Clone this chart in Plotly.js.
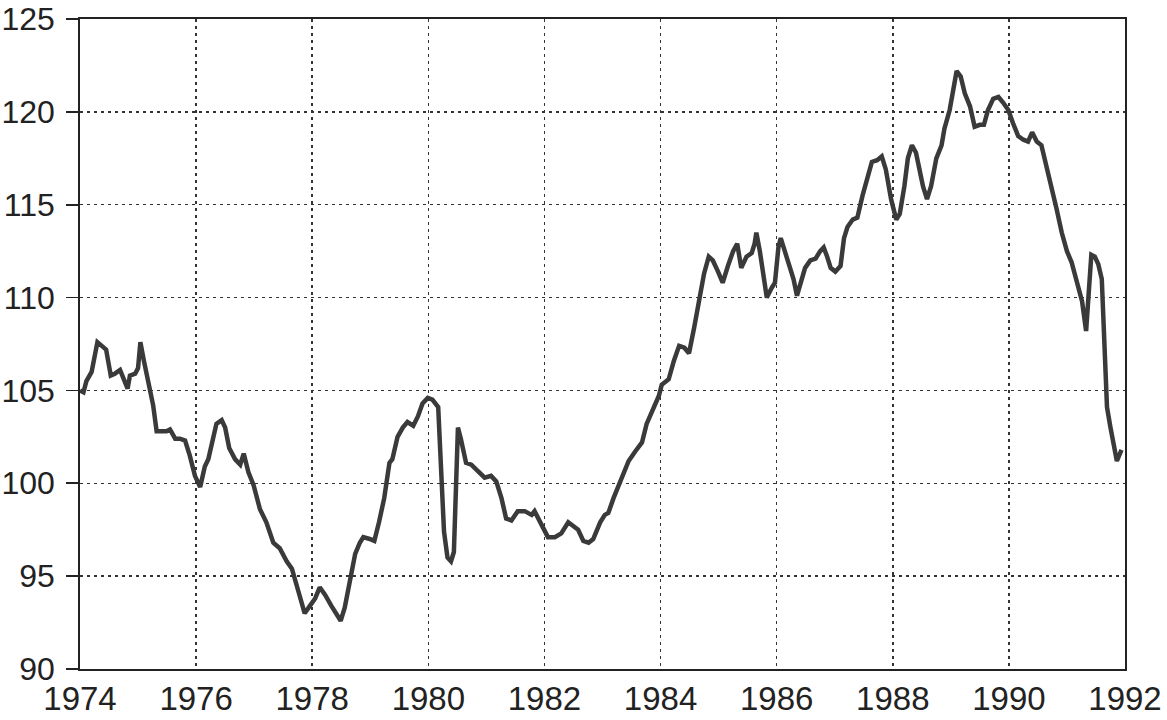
<!DOCTYPE html>
<html>
<head>
<meta charset="utf-8">
<script src="https://cdn.plot.ly/plotly-3.0.1.min.js"></script>
<style>
  html, body { margin: 0; padding: 0; background: #fff; }
  #chart { width: 1167px; height: 720px; }
</style>
</head>
<body>
<div id="chart"></div>
<script>
// Decimal year of each reading
const years = [
  1974.00,1974.06,1974.11,1974.20,1974.30,1974.37,1974.45,1974.53,1974.60,1974.69,1974.75,1974.82,1974.86,1974.95,
  1975.00,1975.04,1975.10,1975.21,1975.26,1975.32,1975.41,1975.49,1975.55,1975.64,1975.72,1975.81,1975.89,1975.98,
  1976.07,1976.15,1976.21,1976.27,1976.35,1976.44,1976.50,1976.57,1976.67,1976.76,1976.82,1976.90,1976.99,
  1977.10,1977.21,1977.33,1977.44,1977.56,1977.65,1977.76,1977.87,1977.96,
  1978.05,1978.13,1978.22,1978.33,1978.42,1978.49,1978.56,1978.65,1978.74,1978.82,1978.88,1978.99,
  1979.07,1979.15,1979.24,1979.33,1979.38,1979.47,1979.56,1979.64,1979.74,1979.82,1979.90,1979.99,
  1980.07,1980.17,1980.22,1980.27,1980.33,1980.39,1980.44,1980.48,1980.51,1980.56,1980.65,1980.74,1980.85,1980.97,
  1981.08,1981.17,1981.26,1981.34,1981.43,1981.54,1981.66,1981.78,1981.83,1981.95,
  1982.06,1982.18,1982.29,1982.41,1982.50,1982.58,1982.67,1982.76,1982.84,1982.96,
  1983.04,1983.10,1983.19,1983.27,1983.36,1983.45,1983.56,1983.68,1983.76,1983.85,1983.97,
  1984.02,1984.14,1984.23,1984.32,1984.41,1984.49,1984.58,1984.67,1984.75,1984.83,1984.90,1984.99,
  1985.07,1985.16,1985.25,1985.32,1985.39,1985.48,1985.57,1985.62,1985.65,1985.71,1985.77,1985.83,1985.91,1985.97,
  1986.03,1986.07,1986.12,1986.20,1986.29,1986.35,1986.41,1986.49,1986.58,1986.67,1986.75,1986.81,1986.87,1986.93,
  1987.01,1987.10,1987.16,1987.22,1987.31,1987.39,1987.48,1987.57,1987.64,1987.73,1987.81,1987.88,1987.97,
  1988.06,1988.12,1988.20,1988.26,1988.33,1988.40,1988.46,1988.52,1988.59,1988.66,1988.75,1988.84,1988.89,1988.98,
  1989.10,1989.17,1989.24,1989.33,1989.41,1989.50,1989.57,1989.64,1989.73,1989.82,1989.90,1989.99,
  1990.07,1990.16,1990.25,1990.33,1990.40,1990.48,1990.56,1990.65,1990.74,1990.82,1990.91,
  1991.00,1991.08,1991.17,1991.26,1991.33,1991.37,1991.42,1991.48,1991.54,1991.60,1991.63,1991.66,1991.69,1991.75,1991.80,1991.86,1991.94
];

// Index values
const values = [
  105.0,104.9,105.5,106.0,107.6,107.4,107.2,105.8,105.9,106.1,105.6,105.1,105.8,105.9,
  106.2,107.6,106.6,105.1,104.2,102.8,102.8,102.8,102.9,102.4,102.4,102.3,101.5,100.4,
  99.8,100.9,101.3,102.1,103.2,103.4,103.0,101.9,101.3,101.0,101.6,100.6,99.9,
  98.6,97.9,96.8,96.5,95.8,95.4,94.2,93.0,93.4,
  93.8,94.4,94.0,93.4,92.9,92.6,93.3,94.9,96.2,96.8,97.1,97.0,
  96.9,97.9,99.2,101.1,101.3,102.5,103.0,103.3,103.1,103.6,104.3,104.6,
  104.5,104.1,101.0,97.4,96.0,95.8,96.3,100.1,103.0,102.4,101.1,101.0,100.7,100.3,
  100.4,100.1,99.2,98.1,98.0,98.5,98.5,98.3,98.5,97.7,
  97.1,97.1,97.3,97.9,97.7,97.5,96.9,96.8,97.0,97.9,
  98.3,98.4,99.2,99.8,100.6,101.2,101.7,102.2,103.2,103.8,104.7,
  105.3,105.6,106.6,107.4,107.3,107.0,108.4,110.1,111.3,112.2,112.0,111.4,
  110.8,111.7,112.5,112.9,111.6,112.2,112.4,112.9,113.5,112.5,111.3,110.0,110.5,110.8,
  112.7,113.2,112.7,111.9,111.0,110.1,110.8,111.6,112.0,112.1,112.5,112.7,112.2,111.6,
  111.4,111.7,113.2,113.8,114.2,114.3,115.5,116.4,117.3,117.4,117.6,116.9,115.3,
  114.2,114.5,116.0,117.5,118.2,117.8,116.9,116.0,115.3,116.0,117.5,118.2,119.1,120.1,
  122.2,121.9,121.0,120.3,119.2,119.3,119.3,120.1,120.7,120.8,120.5,120.1,
  119.4,118.7,118.5,118.4,118.9,118.4,118.2,117.1,115.9,114.8,113.5,
  112.5,111.9,110.9,109.8,108.2,110.0,112.3,112.2,111.8,111.0,108.4,105.7,104.1,103.0,102.1,101.2,101.8
];

const xTicks = [1974,1976,1978,1980,1982,1984,1986,1988,1990,1992];
const yTicks = [90,95,100,105,110,115,120,125];

const trace = {
  x: years,
  y: values,
  type: 'scatter',
  mode: 'lines',
  line: { color: '#3a3a3a', width: 4.5, shape: 'linear' },
  hoverinfo: 'skip',
  cliponaxis: false
};

const yFont = { family: 'Liberation Sans, Arial, sans-serif', size: 32, color: '#222' };
const xFont = { family: 'Liberation Sans, Arial, sans-serif', size: 33, color: '#222' };

const layout = {
  width: 1167,
  height: 720,
  margin: { l: 80, r: 42, t: 19, b: 51, pad: 0 },
  paper_bgcolor: '#ffffff',
  plot_bgcolor: '#ffffff',
  showlegend: false,
  xaxis: {
    range: [1974, 1992],
    tickmode: 'array',
    tickvals: xTicks,
    ticktext: xTicks.map(String),
    ticks: '',
    ticklabelstandoff: 0,
    ticklabeloverflow: 'allow',
    showgrid: true,
    gridcolor: '#333',
    gridwidth: 1.5,
    griddash: '3px,4px',
    zeroline: false,
    showline: true,
    linecolor: '#222',
    linewidth: 1.8,
    mirror: true,
    tickfont: xFont
  },
  yaxis: {
    range: [90, 125],
    tickmode: 'array',
    tickvals: yTicks,
    ticktext: yTicks.map(String),
    ticks: 'outside',
    ticklen: 12,
    tickwidth: 1.8,
    tickcolor: '#222',
    ticklabelstandoff: 5,
    ticklabeloverflow: 'allow',
    showgrid: true,
    gridcolor: '#333',
    gridwidth: 1.5,
    griddash: '3px,4px',
    zeroline: false,
    showline: true,
    linecolor: '#222',
    linewidth: 1.8,
    mirror: true,
    tickfont: yFont
  }
};

Plotly.newPlot('chart', [trace], layout, { staticPlot: true, displayModeBar: false });
</script>
</body>
</html>
